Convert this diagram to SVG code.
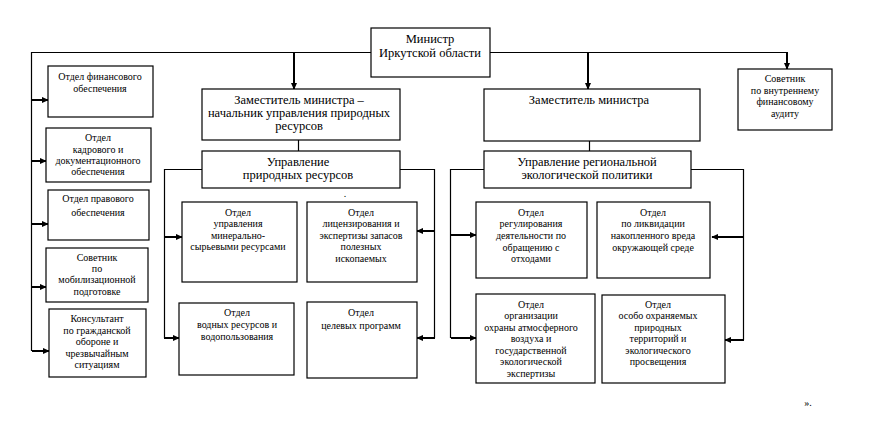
<svg xmlns="http://www.w3.org/2000/svg" width="875" height="431" viewBox="0 0 875 431">
<style>
.box{fill:#fff;stroke:#000;stroke-width:1.2}
.ln{fill:none;stroke:#000;stroke-width:1.2}
.ar{fill:none;stroke:#000;stroke-width:2;marker-end:url(#ah)}
text{font-family:"Liberation Serif",Tinos,"DejaVu Serif",serif;fill:#000;text-anchor:middle}
.s{font-size:10px}
.b{font-size:12.5px}
</style>
<defs>
<marker id="ah" viewBox="0 0 10 10" refX="9" refY="5" markerWidth="7" markerHeight="7" markerUnits="userSpaceOnUse" orient="auto">
<path d="M0,0.5 L10,5 L0,9.5 z" fill="#000"/>
</marker>
</defs>
<rect width="875" height="431" fill="#fff"/>
<g id="connectors">
<polyline class="ln" points="371,52.5 31.5,52.5 31.5,351"/>
<polyline class="ln" points="490,52.5 787,52.5"/>
<line class="ar" x1="294" y1="52" x2="294" y2="89"/>
<line class="ar" x1="588" y1="52" x2="588" y2="89"/>
<line class="ar" x1="787" y1="52" x2="787" y2="69"/>
<line class="ar" x1="32" y1="100" x2="48" y2="100"/>
<line class="ar" x1="32" y1="161" x2="46" y2="161"/>
<line class="ar" x1="32" y1="224" x2="48" y2="224"/>
<line class="ar" x1="32" y1="287" x2="46" y2="287"/>
<line class="ar" x1="32" y1="351" x2="49" y2="351"/>
<line class="ln" x1="298.5" y1="140" x2="298.5" y2="151"/>
<line class="ln" x1="589.5" y1="141" x2="589.5" y2="151"/>
<polyline class="ln" points="202,169.5 164.5,169.5 164.5,338"/>
<polyline class="ln" points="400,169.5 434.5,169.5 434.5,338"/>
<polyline class="ln" points="484,169.5 450.5,169.5 450.5,338"/>
<polyline class="ln" points="691,169.5 743.5,169.5 743.5,340"/>
<line class="ar" x1="164" y1="237" x2="182" y2="237"/>
<line class="ar" x1="164" y1="338" x2="179" y2="338"/>
<line class="ar" x1="435" y1="231" x2="417" y2="231"/>
<line class="ar" x1="435" y1="338" x2="417" y2="338"/>
<line class="ar" x1="451" y1="235" x2="476" y2="235"/>
<line class="ar" x1="451" y1="338" x2="476" y2="338"/>
<line class="ar" x1="744" y1="237" x2="712" y2="237"/>
<line class="ar" x1="744" y1="340" x2="725" y2="340"/>
</g>
<g id="minister">
<rect class="box" x="371" y="28" width="119" height="49"/>
<text class="b" x="430" y="43">Министр</text>
<text class="b" x="430" y="57">Иркутской области</text>
</g>
<g id="deputy1">
<rect class="box" x="202" y="89" width="198" height="51"/>
<text class="b" x="299" y="104">Заместитель министра –</text>
<text class="b" x="299" y="117">начальник управления природных</text>
<text class="b" x="299" y="130">ресурсов</text>
</g>
<g id="deputy2">
<rect class="box" x="484" y="89" width="216" height="52"/>
<text class="b" x="589" y="104">Заместитель министра</text>
</g>
<g id="adviser-audit">
<rect class="box" x="738" y="69" width="94" height="61"/>
<text class="s" x="785" y="82">Советник</text>
<text class="s" x="785" y="94">по внутреннему</text>
<text class="s" x="785" y="105">финансовому</text>
<text class="s" x="785" y="117">аудиту</text>
</g>
<g id="upr-natural">
<rect class="box" x="202" y="151" width="198" height="37"/>
<text class="b" x="298" y="166">Управление</text>
<text class="b" x="298" y="179">природных ресурсов</text>
</g>
<g id="upr-eco">
<rect class="box" x="484" y="151" width="207" height="37"/>
<text class="b" x="587" y="166">Управление региональной</text>
<text class="b" x="587" y="179">экологической политики</text>
</g>
<g id="dept-finance">
<rect class="box" x="48" y="66" width="105" height="51"/>
<text class="s" x="100" y="80">Отдел  финансового</text>
<text class="s" x="100" y="92">обеспечения</text>
</g>
<g id="dept-hr">
<rect class="box" x="46" y="128" width="105" height="54"/>
<text class="s" x="98" y="141">Отдел</text>
<text class="s" x="98" y="153">кадрового и</text>
<text class="s" x="98" y="164">документационного</text>
<text class="s" x="98" y="175">обеспечения</text>
</g>
<g id="dept-legal">
<rect class="box" x="48" y="190" width="101" height="50"/>
<text class="s" x="98" y="202">Отдел правового</text>
<text class="s" x="98" y="216">обеспечения</text>
</g>
<g id="adviser-mob">
<rect class="box" x="46" y="248" width="102" height="54"/>
<text class="s" x="97" y="261">Советник</text>
<text class="s" x="97" y="272">по</text>
<text class="s" x="97" y="283">мобилизационной</text>
<text class="s" x="97" y="295">подготовке</text>
</g>
<g id="consultant">
<rect class="box" x="49" y="309" width="97" height="68"/>
<text class="s" x="97" y="322">Консультант</text>
<text class="s" x="97" y="334">по гражданской</text>
<text class="s" x="97" y="345">обороне и</text>
<text class="s" x="97" y="357">чрезвычайным</text>
<text class="s" x="97" y="368">ситуациям</text>
</g>
<g id="dept-mineral">
<rect class="box" x="182" y="202" width="115" height="80"/>
<text class="s" x="238" y="216">Отдел</text>
<text class="s" x="238" y="227">управления</text>
<text class="s" x="238" y="239">минерально-</text>
<text class="s" x="238" y="250">сырьевыми ресурсами</text>
</g>
<g id="dept-license">
<rect class="box" x="307" y="202" width="110" height="80"/>
<text class="s" x="361" y="216">Отдел</text>
<text class="s" x="361" y="227">лицензирования и</text>
<text class="s" x="361" y="239">экспертизы запасов</text>
<text class="s" x="361" y="250">полезных</text>
<text class="s" x="361" y="262">ископаемых</text>
</g>
<g id="dept-water">
<rect class="box" x="179" y="303" width="115" height="72"/>
<text class="s" x="237" y="316">Отдел</text>
<text class="s" x="237" y="328">водных ресурсов и</text>
<text class="s" x="237" y="340">водопользования</text>
</g>
<g id="dept-programs">
<rect class="box" x="307" y="302" width="110" height="76"/>
<text class="s" x="361" y="316">Отдел</text>
<text class="s" x="361" y="329">целевых программ</text>
</g>
<g id="dept-waste">
<rect class="box" x="476" y="202" width="111" height="76"/>
<text class="s" x="531" y="216">Отдел</text>
<text class="s" x="531" y="227">регулирования</text>
<text class="s" x="531" y="239">деятельности по</text>
<text class="s" x="531" y="251">обращению с</text>
<text class="s" x="531" y="262">отходами</text>
</g>
<g id="dept-harm">
<rect class="box" x="597" y="202" width="113" height="76"/>
<text class="s" x="653" y="216">Отдел</text>
<text class="s" x="653" y="227">по ликвидации</text>
<text class="s" x="653" y="239">накопленного вреда</text>
<text class="s" x="653" y="251">окружающей среде</text>
</g>
<g id="dept-air">
<rect class="box" x="476" y="294" width="119" height="89"/>
<text class="s" x="531" y="308">Отдел</text>
<text class="s" x="531" y="319">организации</text>
<text class="s" x="531" y="331">охраны атмосферного</text>
<text class="s" x="531" y="342">воздуха и</text>
<text class="s" x="531" y="354">государственной</text>
<text class="s" x="531" y="365">экологической</text>
<text class="s" x="531" y="377">экспертизы</text>
</g>
<g id="dept-protected">
<rect class="box" x="602" y="295" width="123" height="88"/>
<text class="s" x="658" y="308">Отдел</text>
<text class="s" x="658" y="319">особо охраняемых</text>
<text class="s" x="658" y="331">природных</text>
<text class="s" x="658" y="342">территорий и</text>
<text class="s" x="658" y="354">экологического</text>
<text class="s" x="658" y="365">просвещения</text>
</g>
<text class="s" x="345" y="197">.</text>
<text class="s" x="808" y="406">».</text>
</svg>
